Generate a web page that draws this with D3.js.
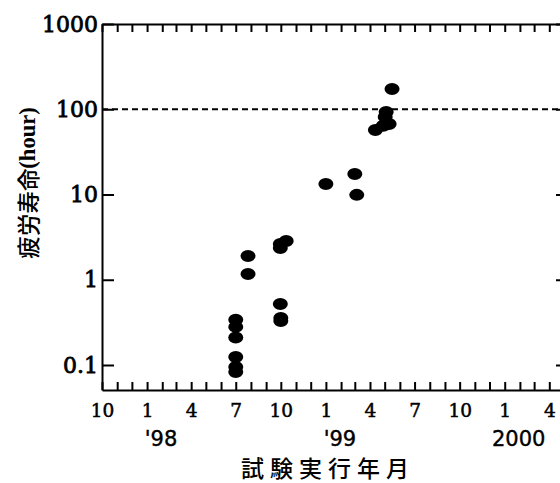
<!DOCTYPE html>
<html>
<head>
<meta charset="utf-8">
<script src="https://cdn.jsdelivr.net/npm/d3@7"></script>
<style>
  body { margin: 0; background: #fff; }
  svg { display: block; }
  .axis path, .axis line { stroke: #000; stroke-width: 2; }
</style>
</head>
<body>
<div id="chart"></div>
<script>
// Test dates and fatigue life (hours)
let testDates = [
    "1998-07-01", "1998-07-01", "1998-07-01", "1998-07-01", "1998-07-01", "1998-07-01",
    "1998-07-26", "1998-07-26",
    "1998-09-30", "1998-09-30", "1998-10-12", "1998-09-30", "1998-10-01", "1998-10-01",
    "1999-01-01", "1999-03-01", "1999-03-05",
    "1999-04-12", "1999-04-28", "1999-05-02", "1999-05-04", "1999-05-10", "1999-05-16"
];
let lifeHours = [
    0.34, 0.28, 0.21, 0.124, 0.095, 0.083,
    1.9, 1.17,
    2.63, 2.36, 2.84, 0.52, 0.356, 0.328,
    13.3, 17.4, 9.9,
    57, 64, 81, 93, 67, 173
];
let yTickValues = [0.1, 1, 10, 100, 1000];
let yTickLabels = ["0.1", "1", "10", "100", "1000"];
let yearLabels = ["'98", "'99", "2000"];
let yearDates = ["1998-01-01", "1999-01-01", "2000-01-01"];
let limitLife = 100;

let margin = { top: 24, left: 102 };
let svgWidth = 560, svgHeight = 483;
let chartWidth = 462, chartHeight = 366;

let parse = d3.timeParse("%Y-%m-%d");

let svg = d3.select('#chart')
            .append('svg')
            .attr('width', svgWidth)
            .attr('height', svgHeight);

let chartGrp = svg.append('g')
            .attr('transform', `translate(${margin.left}, ${margin.top})`);

let xScale = d3.scaleTime()
                .domain([parse("1997-10-01"), parse("2000-05-01")])
                .range([0, chartWidth]);
let yScale = d3.scaleLog()
                .domain([0.0509, 1000])
                .range([chartHeight, 0]);

let months = d3.timeMonth.range(parse("1997-10-01"), parse("2000-05-02"));

// bottom axis: ticks point up, labels on every third month
let xAxis = d3.axisBottom(xScale)
                .tickValues(months)
                .tickSize(-8)
                .tickSizeOuter(0)
                .tickPadding(14)
                .tickFormat(d => (d.getMonth() % 3 === 0) ? (d.getMonth() + 1) : "");
let bottomGrp = chartGrp.append('g')
    .attr('class', 'axis')
    .attr('transform', `translate(0, ${chartHeight})`)
    .call(xAxis);
bottomGrp.selectAll('text')
    .attr('font-family', '"DejaVu Serif", serif')
    .attr('font-size', 18.5)
    .attr('fill', '#000')
    .attr('stroke', '#000')
    .attr('stroke-width', 0.5);

// top axis
chartGrp.append('g')
    .attr('class', 'axis')
    .call(d3.axisTop(xScale).tickValues(months).tickSize(-8).tickSizeOuter(0).tickFormat(""));

// left axis
let leftGrp = chartGrp.append('g')
    .attr('class', 'axis')
    .call(d3.axisLeft(yScale)
            .tickValues(yTickValues)
            .tickSize(-12)
            .tickSizeOuter(0)
            .tickPadding(4)
            .tickFormat((d, i) => yTickLabels[i]));
leftGrp.selectAll('text')
    .attr('font-family', '"DejaVu Serif", serif')
    .attr('font-size', 22)
    .attr('fill', '#000')
    .attr('stroke', '#000')
    .attr('stroke-width', 0.8);

// right axis (mostly off the page)
chartGrp.append('g')
    .attr('class', 'axis')
    .attr('transform', `translate(${chartWidth}, 0)`)
    .call(d3.axisRight(yScale).tickValues(yTickValues).tickSize(-8).tickSizeOuter(0).tickFormat(""));

// 100 hour line
chartGrp.append('line')
    .attr('x1', 0)
    .attr('x2', chartWidth)
    .attr('y1', yScale(limitLife))
    .attr('y2', yScale(limitLife))
    .attr('stroke', '#000')
    .attr('stroke-width', 2)
    .attr('stroke-dasharray', '6,4');

// year labels
chartGrp.selectAll('.yearLabel')
    .data(yearLabels)
    .enter()
    .append('text')
    .attr('class', 'yearLabel')
    .attr('x', (d, i) => xScale(parse(yearDates[i])) + 14)
    .attr('y', chartHeight + 56)
    .attr('text-anchor', 'middle')
    .attr('font-family', '"DejaVu Sans", sans-serif')
    .attr('font-size', 21)
    .attr('stroke', '#000')
    .attr('stroke-width', 0.4)
    .text(d => d);

// points
chartGrp.selectAll('ellipse')
    .data(lifeHours)
    .enter()
    .append('ellipse')
    .attr('cx', (d, i) => xScale(parse(testDates[i])))
    .attr('cy', d => yScale(d))
    .attr('rx', 7.5)
    .attr('ry', 6)
    .attr('fill', '#000');

// axis titles
svg.append('text')
    .attr('x', 328)
    .attr('y', 467)
    .attr('text-anchor', 'middle')
    .attr('dominant-baseline', 'central')
    .attr('font-family', '"Noto Sans CJK JP", sans-serif')
    .attr('font-size', 23)
    .attr('font-weight', 500)
    .attr('letter-spacing', 6)
    .text("試験実行年月");

let yTitle = svg.append('text')
    .attr('transform', 'translate(27, 183) rotate(-90)')
    .attr('text-anchor', 'middle')
    .attr('dominant-baseline', 'central')
    .attr('font-size', 22.5);
yTitle.append('tspan')
    .attr('font-family', '"Noto Sans CJK JP", sans-serif')
    .attr('font-weight', 500)
    .text("疲労寿命");
yTitle.append('tspan')
    .attr('font-family', '"Liberation Serif", serif')
    .attr('font-weight', 'bold')
    .text("(hour)");
</script>
</body>
</html>
